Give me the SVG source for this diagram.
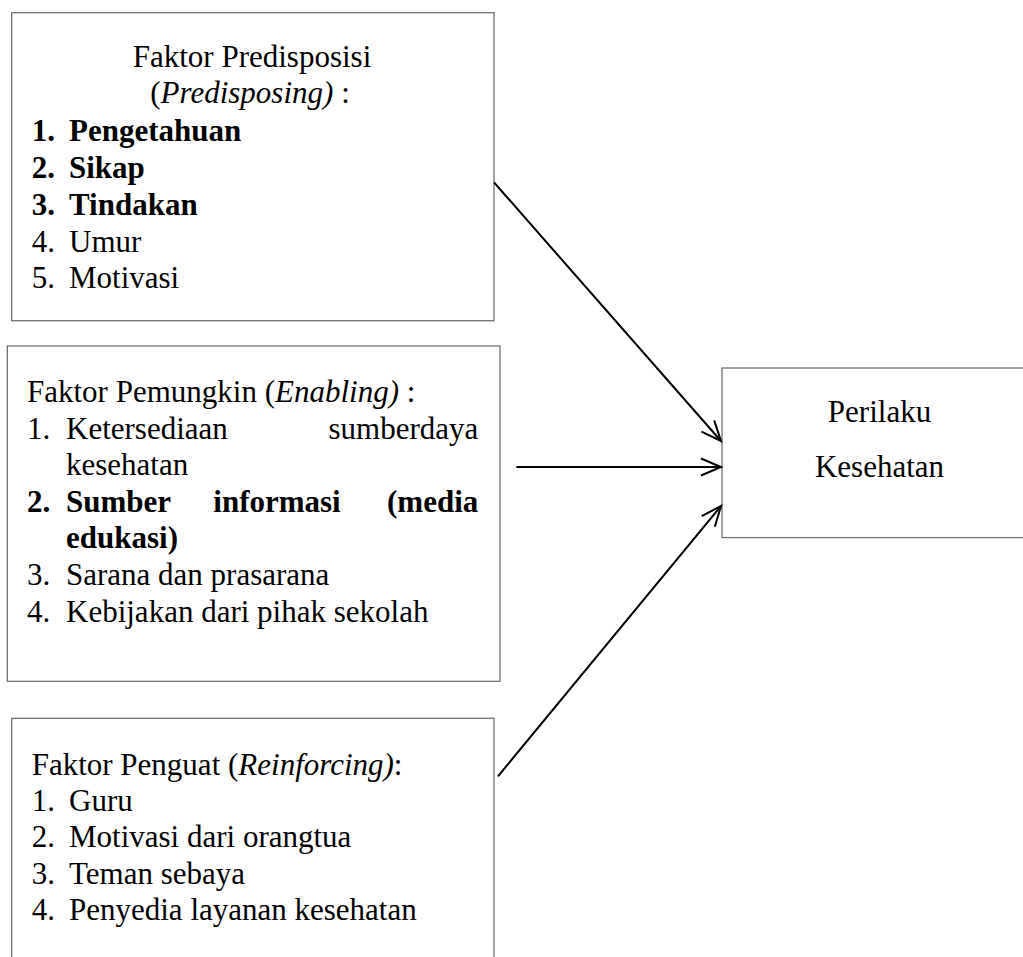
<svg xmlns="http://www.w3.org/2000/svg" width="1023" height="957" viewBox="0 0 1023 957">
<style>
.box{fill:#fff;stroke:#707070;stroke-width:1.3}
text{font-family:"Liberation Serif","Times New Roman",serif;font-size:31px;fill:#000}
.b{font-weight:bold}
.i{font-style:italic}
.m{text-anchor:middle}
.e{text-anchor:end}
.conn{stroke:#000;stroke-width:2;fill:none;marker-end:url(#arr)}
</style>
<defs>
<marker id="arr" markerUnits="userSpaceOnUse" markerWidth="24" markerHeight="20" refX="21" refY="9" orient="auto" overflow="visible">
<path d="M1,0.5 L21,9 L1,17.5" fill="none" stroke="#000" stroke-width="2"/>
</marker>
</defs>
<rect width="1023" height="957" fill="#fff"/>
<g id="node-predisposing">
<rect class="box" x="11.7" y="12.7" width="482.3" height="308"/>
<text class="m" x="252" y="66.5">Faktor Predisposisi</text>
<text class="m" x="250" y="103">(<tspan class="i">Predisposing)</tspan> :</text>
<text class="b" x="31.7" y="141">1.</text><text class="b" x="69" y="141">Pengetahuan</text>
<text class="b" x="31.7" y="178">2.</text><text class="b" x="69" y="178">Sikap</text>
<text class="b" x="31.7" y="215">3.</text><text class="b" x="69" y="215">Tindakan</text>
<text x="31.7" y="251.5">4.</text><text x="69" y="251.5">Umur</text>
<text x="31.7" y="288">5.</text><text x="69" y="288">Motivasi</text>
</g>
<g id="node-enabling">
<rect class="box" x="7.3" y="346" width="492.7" height="335.3"/>
<text x="27" y="402">Faktor Pemungkin (<tspan class="i">Enabling)</tspan> :</text>
<text x="27" y="439">1.</text><text x="66" y="439">Ketersediaan</text><text class="e" x="478.3" y="439">sumberdaya</text>
<text x="66" y="475">kesehatan</text>
<text class="b" x="27" y="512">2.</text><text class="b" x="66" y="512">Sumber</text><text class="b" x="213.3" y="512">informasi</text><text class="b e" x="478.3" y="512">(media</text>
<text class="b" x="66" y="548">edukasi)</text>
<text x="27" y="585">3.</text><text x="66" y="585">Sarana dan prasarana</text>
<text x="27" y="622">4.</text><text x="66" y="622">Kebijakan dari pihak sekolah</text>
</g>
<g id="node-reinforcing">
<rect class="box" x="11.7" y="718.3" width="482.3" height="270"/>
<text x="31.7" y="774.5">Faktor Penguat (<tspan class="i">Reinforcing)</tspan>:</text>
<text x="31.7" y="810.5">1.</text><text x="69" y="810.5">Guru</text>
<text x="31.7" y="847">2.</text><text x="69" y="847">Motivasi dari orangtua</text>
<text x="31.7" y="883.5">3.</text><text x="69" y="883.5">Teman sebaya</text>
<text x="31.7" y="920">4.</text><text x="69" y="920">Penyedia layanan kesehatan</text>
</g>
<g id="node-perilaku">
<rect class="box" x="722" y="368" width="330" height="169.6"/>
<text class="m" x="879.5" y="421.5">Perilaku</text>
<text class="m" x="879.5" y="476.5">Kesehatan</text>
</g>
<g id="connectors">
<line class="conn" x1="494" y1="182.4" x2="721" y2="441"/>
<line class="conn" x1="516.4" y1="467" x2="721" y2="467"/>
<line class="conn" x1="498" y1="776.3" x2="721" y2="506"/>
</g>
</svg>
